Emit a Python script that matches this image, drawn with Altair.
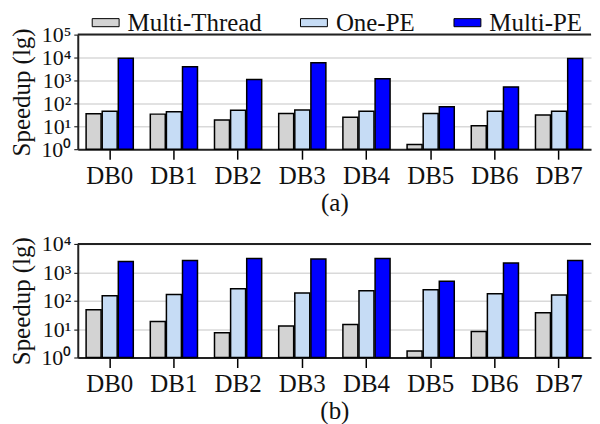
import altair as alt
import pandas as pd

databases = ["DB0", "DB1", "DB2", "DB3", "DB4", "DB5", "DB6", "DB7"]
series = ["Multi-Thread", "One-PE", "Multi-PE"]
colors = ["#d3d3d3", "#c6dcf5", "#0000ff"]

a_multi_thread = [35, 34, 19, 36, 25, 1.6, 10.7, 31]
a_one_pe = [45, 43, 50, 51, 45, 36, 45, 45]
a_multi_pe = [9400, 4000, 1100, 6000, 1180, 71, 525, 9000]

b_multi_thread = [48, 18.6, 7.4, 12.8, 14.6, 1.7, 8.3, 38]
b_one_pe = [150, 167, 265, 186, 225, 245, 176, 158]
b_multi_pe = [2380, 2580, 3040, 2950, 3040, 480, 2130, 2580]

a_ticks = [1, 10, 100, 1000, 10000, 100000]
b_ticks = [1, 10, 100, 1000, 10000]
tick_labels = ["10⁰", "10¹", "10²", "10³", "10⁴", "10⁵"]

FONT = "Liberation Serif, Times New Roman, serif"
FS = 25
YFS = 22


def table(mt, one, multi):
    rows = []
    for i, db in enumerate(databases):
        for s, v in zip(series, [mt[i], one[i], multi[i]]):
            rows.append({"db": db, "series": s, "value": v, "base": 1})
    return pd.DataFrame(rows)


label_expr = "[" + ",".join("'%s'" % t for t in tick_labels) + "][round(log(datum.value)/LN10)]"


def panel(df, ticks, caption, height, show_legend):
    top = ticks[-1]
    legend = None
    if show_legend:
        legend = alt.Legend(
            orient="none", direction="horizontal", title=None,
            legendX=14, legendY=-26,
            labelFont=FONT, labelFontSize=FS, labelColor="#111",
            symbolType="M-1,-0.3H1V0.3H-1Z", symbolSize=729,
            symbolStrokeColor="black", symbolStrokeWidth=1,
            labelOffset=8, columnPadding=36,
        )
    bars = alt.Chart(df).mark_bar(stroke="black", strokeWidth=1.5).encode(
        x=alt.X("db:N", sort=databases,
                scale=alt.Scale(paddingInner=0.265, paddingOuter=0.13),
                axis=alt.Axis(title=caption, labelAngle=0, labelFont=FONT, labelFontSize=FS,
                              labelColor="#111", titleFont=FONT, titleFontSize=FS,
                              titleFontWeight="normal", titleColor="#111",
                              tickSize=10, tickColor="black", tickWidth=1.5,
                              domainColor="#222", domainWidth=2, labelPadding=4,
                              titlePadding=2)),
        xOffset=alt.XOffset("series:N", sort=series,
                            scale=alt.Scale(paddingInner=0.07)),
        y=alt.Y("value:Q",
                scale=alt.Scale(type="log", domain=[1, top]),
                axis=alt.Axis(title="Speedup (lg)", values=ticks, labelExpr=label_expr,
                              labelOverlap=False,
                              labelFont=FONT, labelFontSize=YFS, labelColor="#111",
                              titleFont=FONT, titleFontSize=FS, titleFontWeight="normal",
                              titleColor="#111", tickSize=4, tickColor="black",
                              domainColor="#222", domainWidth=2, grid=True,
                              gridColor="#d9d9d9", gridWidth=1.5, labelPadding=3,
                              titlePadding=6)),
        y2=alt.Y2("base:Q"),
        color=alt.Color("series:N", sort=series,
                        scale=alt.Scale(domain=series, range=colors),
                        legend=legend),
    )
    top_line = alt.Chart(pd.DataFrame({"v": [top]})).mark_rule(
        color="#222", strokeWidth=2).encode(y=alt.Y("v:Q"))
    return alt.layer(bars, top_line).properties(width=515, height=height)


pa = panel(table(a_multi_thread, a_one_pe, a_multi_pe), a_ticks, "(a)", 115, True)
pb = panel(table(b_multi_thread, b_one_pe, b_multi_pe), b_ticks, "(b)", 114, False)

chart = alt.vconcat(pa, pb, spacing=18).resolve_scale(y="independent", color="shared").properties(
    padding={"left": 2, "top": 0, "right": 0, "bottom": 0}
).configure(font=FONT).configure_view(stroke=None)

chart.save("out.html", embed_options={"renderer": "svg", "actions": False})
